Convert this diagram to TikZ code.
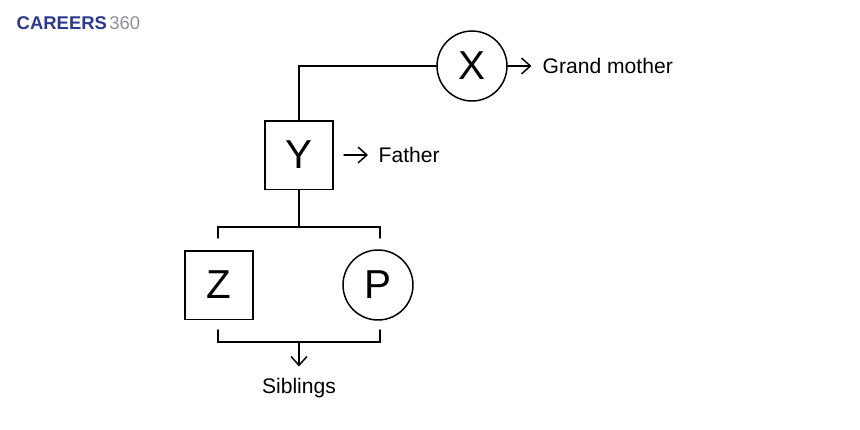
\documentclass[tikz,border=0pt]{standalone}
\usepackage{fontspec}
\setmainfont{Liberation Sans}
\usetikzlibrary{positioning,arrows.meta}
\definecolor{logoblue}{HTML}{2B3990}
\definecolor{logogray}{HTML}{8C9099}

\begin{document}
\begin{tikzpicture}[x=0.02cm,y=-0.02cm,line width=0.85pt,line cap=round,
  sq/.style={draw,rectangle,minimum size=1.37cm,inner sep=0pt,font=\fontsize{23}{25}\selectfont},
  rd/.style={draw,circle,minimum size=1.4cm,inner sep=0pt,font=\fontsize{23}{25}\selectfont},
  lbl/.style={font=\fontsize{12}{14}\selectfont,inner sep=0pt},
  arr/.style={-{Straight Barb[length=5pt,width=9pt]}}]
  \useasboundingbox (0,0) rectangle (860,430);
  % logo
  \node[anchor=west,inner sep=0pt,font=\fontsize{10.5}{12}\selectfont\bfseries,logoblue] (brand) at (16,23) {CAREERS};
  \node[right=0.5pt of brand,inner sep=0pt,font=\fontsize{10.5}{12}\selectfont,logogray] (num) {360};
  % people
  \node[rd] (X) at (472,66) {X};
  \node[sq] (Y) at (299,155) {Y};
  \node[sq] (Z) at (219,285) {Z};
  \node[rd] (P) at (378,285) {P};
  % labels
  \node[lbl,anchor=west] (gm) at (542,66) {Grand mother};
  \node[lbl,anchor=west] (fa) at (378,155) {Father};
  \node[lbl,anchor=north] (sib) at (299,377) {Siblings};
  % tree lines
  \coordinate (bend) at (299,66);
  \coordinate (top) at (299,227);
  \coordinate (bot) at (299,342);
  \draw (X.west) -- (bend) -- (Y.north);
  \draw (Y.south) -- (top);
  \draw (218,238) |- (top) -| (380,238);
  \draw (218,330) |- (bot) -| (380,330);
  % arrows
  \draw[arr,shorten >=6pt] (X.east) -- (gm.west);
  \draw[arr,shorten <=5.7pt,shorten >=5.7pt] (Y.east) -- (fa.west);
  \draw[arr,shorten >=6pt] (bot) -- (sib.north);
\end{tikzpicture}
\end{document}
